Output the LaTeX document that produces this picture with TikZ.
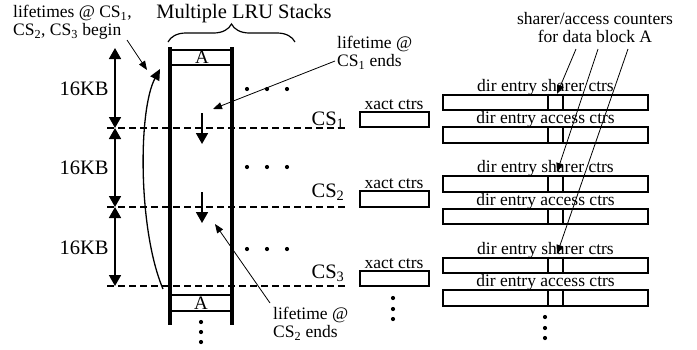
\documentclass[tikz,border=0pt]{standalone}
\usepackage{fontspec}
\setmainfont{Liberation Serif}
\usetikzlibrary{arrows.meta,decorations.pathreplacing}
\begin{document}
\begin{tikzpicture}[x=1pt,y=-1pt,
  big/.style={font=\fontsize{20.5}{22}\selectfont, inner sep=0pt},
  small/.style={font=\fontsize{17.5}{18}\selectfont, inner sep=0pt},
  mid/.style={font=\fontsize{19}{20}\selectfont, inner sep=0pt},
  wall/.style={line width=4pt},
  rowline/.style={line width=2pt},
  sepline/.style={line width=1.6pt, dash pattern=on 7pt off 4pt},
  dimarrow/.style={line width=1.8pt, {Triangle[length=11pt,width=12pt]}-{Triangle[length=11pt,width=12pt]}},
  downarrow/.style={line width=1.8pt, -{Triangle[length=11pt,width=12pt]}},
  thinarrow/.style={line width=0.8pt, -{Triangle[length=9pt,width=7pt]}},
  box/.style={draw, line width=2.2pt, rectangle, inner sep=0pt, minimum height=15.5pt},
  dot/.style={circle, fill, inner sep=0pt, minimum size=4.2pt},
]
\useasboundingbox (0,0) rectangle (697,349);

% title and brace
\node[big, anchor=base] (title) at (244,18) {Multiple LRU Stacks};
\draw[line width=1.2pt, decorate, decoration={brace, amplitude=18pt}] (168,42) -- (295,42);

% stack
\draw[wall] (170,47) -- (170,325);
\draw[wall] (232,47) -- (232,325);
\draw[rowline] (170,50) -- (232,50);
\draw[rowline] (170,65) -- (232,65);
\draw[rowline] (170,295) -- (232,295);
\draw[rowline] (170,311) -- (232,311);
\node[mid, anchor=base] (atop) at (202,63.5) {A};
\node[mid, anchor=base] (abot) at (201,309.5) {A};
\foreach \i/\y in {1/322,2/332,3/342} \node[dot] (sd\i) at (201,\y) {};

% dashed separators
\foreach \i/\y in {1/128,2/207,3/286} \draw[sepline] (107,\y) -- (345,\y);

% dimension arrows
\coordinate (m0) at (115,48);
\coordinate (m1) at (115,128);
\coordinate (m2) at (115,207);
\coordinate (m3) at (115,286);
\draw[dimarrow] (m0) -- (m1);
\draw[dimarrow] (m1) -- (m2);
\draw[dimarrow] (m2) -- (m3);
\node[big, anchor=base] (kb1) at (84,95) {16KB};
\node[big, anchor=base] (kb2) at (84,174) {16KB};
\node[big, anchor=base] (kb3) at (84,254) {16KB};

% dots right of stack
\foreach \r/\y in {1/89,2/167,3/249}
  \foreach \c/\x in {1/247,2/267,3/287}
    \node[dot] (rd\r\c) at (\x,\y) {};

% lifetime arrows in stack
\coordinate (e1a) at (202,113);
\coordinate (e1b) at (202,144);
\coordinate (e2a) at (202,192);
\coordinate (e2b) at (202,223);
\draw[downarrow] (e1a) -- (e1b);
\draw[downarrow] (e2a) -- (e2b);

% curved begin arrow
\coordinate (cb) at (163,289);
\coordinate (ct) at (160,69);
\draw[line width=1.3pt, -{Triangle[length=11pt,width=10pt]}] (cb) .. controls (138,230) and (138,110) .. (ct);

% annotations
\node[small, anchor=north west, align=left] (begin) at (13,5) {lifetimes @ CS\textsubscript{1},\\CS\textsubscript{2}, CS\textsubscript{3} begin};
\coordinate (begintail) at (127,40);
\coordinate (begintip) at (147,70);
\draw[thinarrow] (begintail) -- (begintip);

\node[small, anchor=north west, align=left] (end1) at (337,36) {lifetime @\\CS\textsubscript{1} ends};
\coordinate (end1tail) at (335,61);
\coordinate (end1tip) at (213,109);
\draw[thinarrow] (end1tail) -- (end1tip);

\node[small, anchor=north west, align=left] (end2) at (273,307) {lifetime @\\CS\textsubscript{2} ends};
\coordinate (end2tail) at (270,303);
\coordinate (end2tip) at (215,224);
\draw[thinarrow] (end2tail) -- (end2tip);

% CS labels
\node[big, anchor=base] (cs1) at (328,125) {CS\textsubscript{1}};
\node[big, anchor=base] (cs2) at (328,197) {CS\textsubscript{2}};
\node[big, anchor=base] (cs3) at (328,278) {CS\textsubscript{3}};

% xact counters
\node[box, minimum width=69pt] (x1) at (394.5,119.5) {};
\node[box, minimum width=69pt] (x2) at (394.5,199) {};
\node[box, minimum width=69pt] (x3) at (394.5,278.5) {};
\node[small, anchor=base] (xl1) at (394,109) {xact ctrs};
\node[small, anchor=base] (xl2) at (394,188) {xact ctrs};
\node[small, anchor=base] (xl3) at (394,268) {xact ctrs};
\foreach \i/\y in {1/298,2/309,3/319} \node[dot] (xd\i) at (393,\y) {};

% directory entries
\foreach \n/\y/\t in {s1/102.5/sharer, a1/135/access, s2/184/sharer, a2/216.5/access, s3/265.5/sharer, a3/298/access} {
  \node[box, minimum width=205pt] (\n) at (545.5,\y) {};
  \draw[rowline] (548,0 |- \n.north) -- (548,0 |- \n.south);
  \draw[rowline] (563,0 |- \n.north) -- (563,0 |- \n.south);
  \node[small, anchor=base] (\n l) at ([yshift=2.5pt]\n.north) {dir entry \t\ ctrs};
}
\foreach \i/\y in {1/317,2/328,3/338} \node[dot] (dd\i) at (545,\y) {};

% sharer/access counter annotation
\node[small, anchor=north, align=center] (cnt) at (595,12) {sharer/access counters\\for data block A};
\coordinate (c1) at (576,49);
\coordinate (c2) at (598,49);
\coordinate (c3) at (628,49);
\coordinate (t1) at (557,94);
\coordinate (t2) at (557,172);
\coordinate (t3) at (557,254);
\draw[thinarrow] (c1) -- (t1);
\draw[thinarrow] (c2) -- (t2);
\draw[thinarrow] (c3) -- (t3);
\end{tikzpicture}
\end{document}
